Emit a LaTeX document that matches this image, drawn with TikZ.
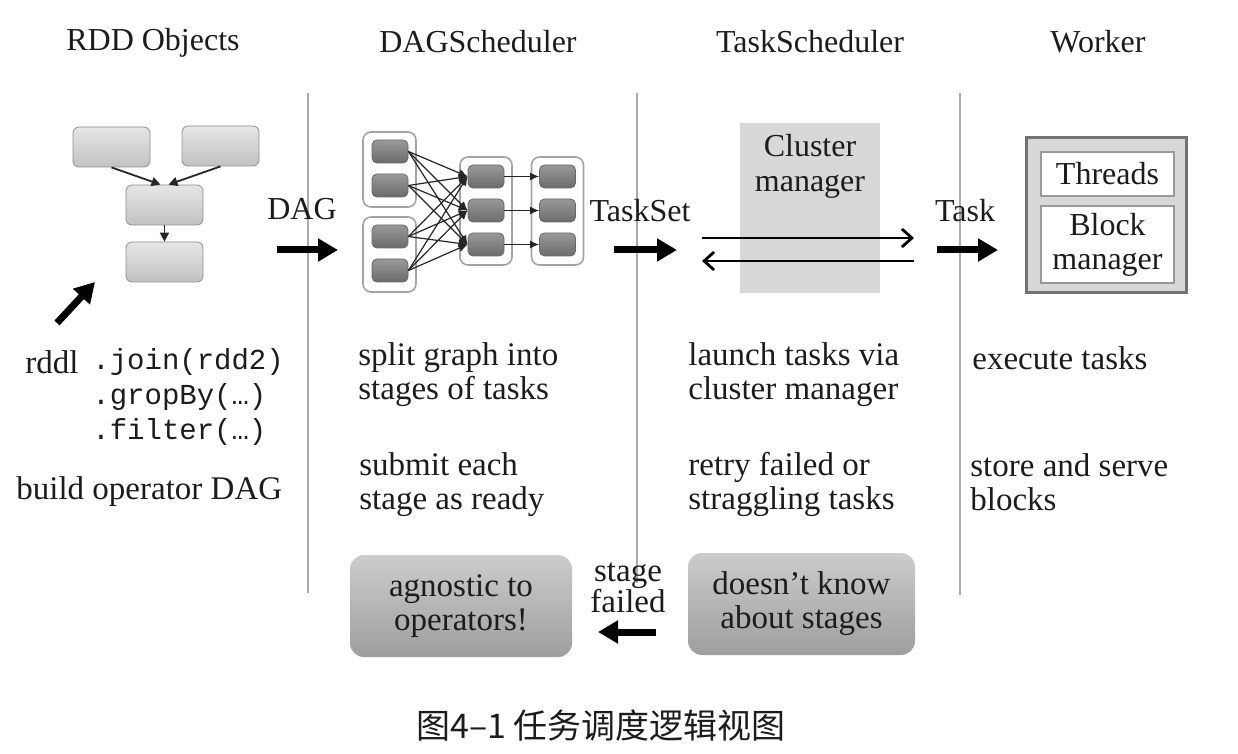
\documentclass[tikz,border=0pt]{standalone}
\usepackage{fontspec}
\setmainfont{Liberation Serif}
\setmonofont{Liberation Mono}
\newfontfamily\cjk{Noto Sans CJK SC}
\usetikzlibrary{arrows.meta}
\definecolor{ink}{HTML}{1C1C1C}
\definecolor{sepgray}{HTML}{ABABAB}
\definecolor{rddline}{HTML}{8E8E8E}
\definecolor{grpline}{HTML}{A4A4A4}
\definecolor{cmgray}{HTML}{D8D8D8}
\tikzset{
  title/.style={text=ink, font=\fontsize{16}{18}\selectfont},
  body/.style={anchor=west, align=left, inner sep=0pt, text=ink, font=\fontsize{16.5}{17}\selectfont},
  rdd/.style={draw=rddline, rounded corners=3pt, top color=black!10, bottom color=black!24, minimum width=38.5pt, minimum height=20pt, inner sep=0pt},
  grp/.style={draw=grpline, line width=0.8pt, rounded corners=4pt, fill=white, inner sep=0pt},
  tsk/.style={draw=black!60, rounded corners=2.5pt, top color=black!40, bottom color=black!58, minimum width=18pt, minimum height=11.5pt, inner sep=0pt},
  big/.style={rounded corners=7pt, top color=black!20, bottom color=black!38, minimum width=111pt, minimum height=51pt, align=center, text=ink, font=\fontsize{16.5}{17}\selectfont},
  fat/.style={line width=3.5pt, -{Triangle[length=10pt,width=11pt]}},
  thin/.style={draw=black!85, line width=0.9pt, -{Triangle[length=4.5pt,width=4.5pt]}},
  dagedge/.style={draw=black!85, line width=0.6pt, -{Latex[length=4.5pt,width=4pt]}},
  sep/.style={draw=sepgray, line width=1pt}
}
\begin{document}
\begin{tikzpicture}[>=stealth, x=0.5pt, y=-0.5pt]
\useasboundingbox (0,0) rectangle (1238,754);
\node[title] (tRDD) at (153,43) {RDD Objects};
\node[title] (tDAG) at (478,42) {DAGScheduler};
\node[title] (tTS) at (810,42) {TaskScheduler};
\node[title] (tW) at (1098,42) {Worker};
\draw[sep] (308,93)--(308,593);
\draw[sep] (637,93)--(637,583);
\draw[sep] (960,93)--(960,595);

% RDD Objects
\node[rdd] (r1) at (111.5,147) {};
\node[rdd] (r2) at (220.5,146) {};
\node[rdd] (r3) at (164.5,205) {};
\node[rdd] (r4) at (164.5,262) {};
\draw[thin] (r1.south)--([xshift=-2pt]r3.north);
\draw[thin] (r2.south)--([xshift=2pt]r3.north);
\draw[thin] (r3.south)--(r4.north);
\coordinate (inA) at (57,323); \coordinate (inB) at (95,282);
\draw[fat] (inA)--(inB);
\node[body] (rddl) at (25,362) {rddl};
\node[body, font=\ttfamily\fontsize{14.5}{17.5}\selectfont] (code) at (92,397) {.join(rdd2)\\.gropBy(…)\\.filter(…)};
\node[body] (build) at (16,492) {build operator DAG};
\node[title] (dag) at (302,209) {DAG};
\coordinate (dagA) at (277,250); \coordinate (dagB) at (338,250);
\draw[fat] (dagA)--(dagB);

% DAGScheduler
\node[grp, minimum width=26.5pt, minimum height=37.5pt] (gA) at (389.5,169.5) {};
\node[grp, minimum width=26.5pt, minimum height=37.5pt] (gB) at (389.5,254.5) {};
\node[grp, minimum width=26pt, minimum height=54pt] (gM) at (486,211) {};
\node[grp, minimum width=26pt, minimum height=54pt] (gR) at (557.5,211) {};
\foreach \y [count=\i] in {151.5,185.5,236.5,270.5}
  \node[tsk] (l\i) at (390,\y) {};
\foreach \y [count=\j] in {176.5,210.5,244.5}{
  \node[tsk] (m\j) at (486,\y) {};
  \node[tsk] (n\j) at (557.5,\y) {};
  \draw[dagedge] (m\j.east)--(n\j.west);
}
\foreach \i in {1,...,4}
  \foreach \j in {1,2,3}
    \draw[dagedge] (l\i.east)--(m\j.west);
\node[body] (split) at (358,375) {split graph into\\stages of tasks};
\node[body] (submit) at (359,485) {submit each\\stage as ready};
\node[big] (agn) at (461,606) {agnostic to\\operators!};
\node[title] (tset) at (640,211) {TaskSet};
\coordinate (tsA) at (614,250); \coordinate (tsB) at (677,250);
\draw[fat] (tsA)--(tsB);

% TaskScheduler
\node[fill=cmgray, minimum width=70pt, minimum height=85pt] (cm) at (810,208) {};
\node[title, align=center, font=\fontsize{16}{17.5}\selectfont] (cmtext) at (810,166) {Cluster\\manager};
\coordinate (cmA) at (702,238); \coordinate (cmB) at (914,238);
\coordinate (cmC) at (914,261); \coordinate (cmD) at (702,261);
\draw[line width=1.4pt, -{Straight Barb[length=5pt,width=9pt]}] (cmA)--(cmB);
\draw[line width=1.4pt, -{Straight Barb[length=5pt,width=9pt]}] (cmC)--(cmD);
\node[body] (launch) at (688,375) {launch tasks via\\cluster manager};
\node[body] (retry) at (688,484) {retry failed or\\straggling tasks};
\node[big, minimum width=113.5pt] (dkn) at (801.5,604) {doesn’t know\\about stages};
\node[title, align=center, font=\fontsize{16.5}{15.5}\selectfont] (sf) at (628,588) {stage\\failed};
\coordinate (sfA) at (656,632); \coordinate (sfB) at (598,632);
\draw[fat] (sfA)--(sfB);
\node[title] (task) at (965,211) {Task};
\coordinate (tkA) at (937,250); \coordinate (tkB) at (998,250);
\draw[fat] (tkA)--(tkB);

% Worker
\node[draw=black!55, line width=1.5pt, fill=cmgray, minimum width=80pt, minimum height=77.5pt] (wk) at (1106,215.5) {};
\node[draw=black!40, line width=0.8pt, fill=white, minimum width=66.5pt, minimum height=22pt, title] (thr) at (1107.5,174) {Threads};
\node[draw=black!40, line width=0.8pt, fill=white, minimum width=66.5pt, minimum height=37.5pt, title, align=center, font=\fontsize{16}{17}\selectfont] (blk) at (1107.5,244.5) {Block\\manager};
\node[body] (exec) at (972,358) {execute tasks};
\node[body] (store) at (970,482) {store and serve\\blocks};

\node[text=ink, font=\cjk\fontsize{17}{19}\selectfont] (cap) at (601,726) {图4–1 任务调度逻辑视图};
\end{tikzpicture}
\end{document}
